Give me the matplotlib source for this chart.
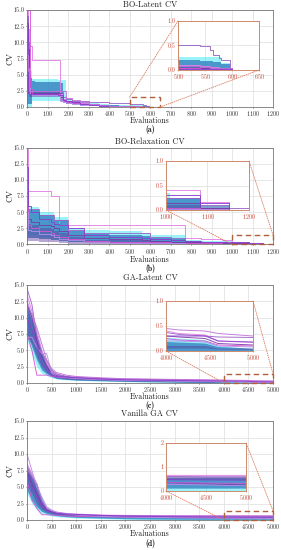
import matplotlib
matplotlib.use('Agg')
import matplotlib.pyplot as plt
from matplotlib.patches import Rectangle, ConnectionPatch
from matplotlib.ticker import FormatStrFormatter

plt.rcParams['font.family'] = 'cmr10'
plt.rcParams['axes.formatter.use_mathtext'] = True
plt.rcParams['mathtext.fontset'] = 'cm'

# ---------------- data ----------------
TITLES = ['BO-Latent CV', 'BO-Relaxation CV', 'GA-Latent CV', 'Vanilla GA CV']
SUBLABELS = ['(a)', '(b)', '(c)', '(d)']
Y_TICKS = [0.0, 2.5, 5.0, 7.5, 10.0, 12.5, 15.0]
X_TICKS_BO = [0, 100, 200, 300, 400, 500, 600, 700, 800, 900, 1000, 1100, 1200]
X_TICKS_GA = [0, 500, 1000, 1500, 2000, 2500, 3000, 3500, 4000, 4500, 5000]

# Panel (a) BO-Latent  (step curves)
XA = [0, 3, 8, 15, 25, 40, 80, 150, 160, 175, 190, 220, 260, 300, 350, 400, 450, 500, 540, 560, 565, 575, 580, 597, 600]
A_RUNS = [
    [15.0, 12.0, 9.5, 9.5, 7.2, 7.2, 7.2, 7.2, 2.0, 1.2, 1.0, 0.8, 0.6, 0.4, 0.3, 0.2, 0.15, 0.1, 0.08, 0.06, 0.06, 0.05, 0.05, 0.03, 0.03],
    [14.0, 10.0, 5.0, 2.5, 2.5, 2.5, 2.5, 2.5, 2.5, 1.6, 1.3, 1.0, 0.9, 0.8, 0.7, 0.6, 0.55, 0.5, 0.48, 0.4, 0.3, 0.25, 0.2, 0.0, 0.0],
    [13.0, 9.0, 4.0, 2.2, 2.2, 2.2, 2.2, 2.2, 1.5, 1.0, 0.9, 0.7, 0.5, 0.35, 0.25, 0.15, 0.1, 0.05, 0.05, 0.05, 0.05, 0.05, 0.05, 0.05, 0.05],
    [15.0, 15.0, 15.0, 2.8, 2.0, 2.0, 2.0, 2.0, 1.2, 0.9, 0.8, 0.6, 0.45, 0.3, 0.2, 0.1, 0.08, 0.05, 0.03, 0.03, 0.03, 0.03, 0.03, 0.03, 0.03],
    [10.0, 6.0, 3.0, 2.0, 1.8, 1.8, 1.8, 1.8, 1.0, 0.8, 0.6, 0.5, 0.35, 0.25, 0.15, 0.1, 0.05, 0.02, 0.02, 0.02, 0.02, 0.02, 0.02, 0.02, 0.02],
    [12.0, 2.2, 2.0, 2.0, 2.0, 2.0, 2.0, 1.9, 1.9, 1.1, 0.9, 0.7, 0.5, 0.3, 0.2, 0.1, 0.05, 0.03, 0.02, 0.02, 0.02, 0.02, 0.02, 0.02, 0.02],
    [8.0, 5.5, 2.4, 2.4, 2.4, 2.4, 2.4, 2.4, 2.4, 2.4, 1.4, 1.1, 0.8, 0.5, 0.35, 0.2, 0.12, 0.08, 0.06, 0.05, 0.05, 0.04, 0.04, 0.04, 0.04],
]
A_CYAN_LO = [0.0, 0.0, 0.0, 0.0, 0.9, 1.0, 1.0, 1.0, 1.0, 0.6, 0.4, 0.3, 0.2, 0.15, 0.1, 0.05, 0.02, 0.0, 0.0, 0.0, 0.0, 0.0, 0.0, 0.0, 0.0]
A_CYAN_HI = [12.0, 9.0, 6.0, 5.5, 4.3, 4.3, 4.3, 4.2, 4.2, 4.2, 1.2, 1.0, 0.8, 0.6, 0.45, 0.35, 0.3, 0.27, 0.27, 0.27, 0.27, 0.27, 0.15, 0.0, 0.0]
A_BLUE_LO = [0.5, 0.5, 0.5, 0.5, 2.0, 2.0, 2.0, 2.0, 2.0, 0.8, 0.5, 0.4, 0.3, 0.2, 0.12, 0.08, 0.05, 0.0, 0.0, 0.0, 0.0, 0.0, 0.0, 0.0, 0.0]
A_BLUE_HI = [11.0, 8.0, 5.0, 4.5, 4.0, 3.9, 3.9, 3.8, 3.7, 1.3, 1.0, 0.8, 0.6, 0.45, 0.35, 0.25, 0.22, 0.2, 0.18, 0.18, 0.17, 0.17, 0.12, 0.0, 0.0]
A_PURP_LO = [2.0, 2.0, 1.6, 1.5, 1.5, 1.5, 1.5, 1.5, 1.0, 0.7, 0.5, 0.4, 0.3, 0.2, 0.12, 0.08, 0.04, 0.02, 0.01, 0.0, 0.0, 0.0, 0.0, 0.0, 0.0]
A_PURP_HI = [14.0, 10.0, 6.0, 2.6, 2.5, 2.4, 2.3, 2.3, 2.2, 1.2, 1.0, 0.8, 0.6, 0.4, 0.3, 0.2, 0.12, 0.08, 0.06, 0.05, 0.04, 0.03, 0.03, 0.0, 0.0]

# Panel (b) BO-Relaxation (step curves)
XB = [0, 5, 20, 60, 115, 130, 155, 200, 280, 400, 560, 600, 700, 770, 850, 950, 1000, 1010, 1082, 1152, 1200]
B_RUNS = [
    [15.0, 8.2, 8.2, 8.2, 7.5, 7.5, 3.0, 3.0, 3.0, 3.0, 3.0, 3.0, 3.0, 1.0, 0.8, 0.6, 0.4, 0.4, 0.17, 0.0, 0.0],
    [10.0, 5.5, 5.5, 4.6, 4.6, 3.8, 3.8, 2.2, 1.8, 1.8, 1.8, 1.2, 1.0, 0.5, 0.4, 0.3, 0.25, 0.25, 0.1, 0.05, 0.05],
    [8.0, 4.0, 3.5, 3.0, 2.8, 2.5, 2.0, 1.5, 1.0, 0.8, 0.6, 0.5, 0.4, 0.3, 0.25, 0.2, 0.15, 0.15, 0.05, 0.0, 0.0],
    [6.0, 3.0, 2.5, 2.0, 1.8, 1.5, 1.2, 0.8, 0.5, 0.4, 0.35, 0.3, 0.25, 0.2, 0.15, 0.1, 0.05, 0.05, 0.02, 0.0, 0.0],
    [5.0, 2.2, 2.0, 1.6, 1.4, 1.2, 0.9, 0.6, 0.3, 0.25, 0.2, 0.18, 0.15, 0.1, 0.08, 0.05, 0.03, 0.03, 0.02, 0.0, 0.0],
    [12.0, 6.0, 5.0, 4.0, 3.5, 3.2, 3.0, 2.5, 1.5, 1.2, 1.0, 0.8, 0.6, 0.5, 0.4, 0.35, 0.3, 0.3, 0.15, 0.0, 0.0],
]
B_CYAN_LO = [1.5, 1.5, 1.5, 1.2, 1.0, 0.8, 0.6, 0.4, 0.3, 0.2, 0.15, 0.1, 0.05, 0.0, 0.0, 0.0, 0.0, 0.0, 0.0, 0.0, 0.0]
B_CYAN_HI = [6.0, 5.8, 5.8, 5.0, 5.0, 4.2, 4.2, 2.5, 2.2, 2.0, 1.8, 1.5, 1.4, 0.6, 0.5, 0.45, 0.35, 0.25, 0.1, 0.0, 0.0]
B_BLUE_LO = [1.0, 1.0, 1.0, 0.8, 0.7, 0.6, 0.5, 0.3, 0.2, 0.15, 0.1, 0.08, 0.05, 0.0, 0.0, 0.0, 0.0, 0.0, 0.0, 0.0, 0.0]
B_BLUE_HI = [5.5, 5.3, 5.3, 4.6, 4.6, 3.8, 3.8, 2.0, 1.6, 1.5, 1.3, 1.0, 0.9, 0.4, 0.35, 0.3, 0.25, 0.25, 0.05, 0.0, 0.0]
B_PURP_LO = [0.5, 0.5, 0.5, 0.4, 0.3, 0.3, 0.2, 0.1, 0.05, 0.03, 0.02, 0.02, 0.01, 0.0, 0.0, 0.0, 0.0, 0.0, 0.0, 0.0, 0.0]
B_PURP_HI = [4.5, 3.2, 3.0, 2.6, 2.4, 2.0, 1.8, 1.2, 0.7, 0.6, 0.5, 0.45, 0.4, 0.3, 0.25, 0.2, 0.1, 0.1, 0.08, 0.0, 0.0]

# Panel (c) GA-Latent (line curves)
XC = [0, 100, 200, 300, 400, 500, 600, 800, 1000, 1500, 2000, 2500, 3000, 3500, 4000, 4150, 4450, 4600, 5000]
C_RUNS = [
    [13.5, 11.0, 8.0, 5.0, 3.0, 1.8, 1.3, 1.0, 0.8, 0.65, 0.55, 0.5, 0.45, 0.42, 0.4, 0.35, 0.32, 0.2, 0.17],
    [14.5, 12.0, 7.0, 4.5, 3.5, 2.0, 1.4, 1.0, 0.9, 0.7, 0.6, 0.55, 0.5, 0.45, 0.37, 0.33, 0.3, 0.28, 0.27],
    [12.0, 10.0, 6.5, 4.0, 2.5, 1.5, 1.1, 0.9, 0.75, 0.6, 0.5, 0.45, 0.4, 0.35, 0.3, 0.28, 0.25, 0.15, 0.12],
    [7.5, 5.0, 1.2, 1.2, 1.2, 1.0, 0.9, 0.8, 0.7, 0.55, 0.45, 0.4, 0.35, 0.3, 0.25, 0.22, 0.2, 0.12, 0.1],
    [7.0, 7.0, 5.5, 4.5, 4.5, 1.5, 1.0, 0.85, 0.7, 0.5, 0.4, 0.35, 0.3, 0.25, 0.2, 0.2, 0.18, 0.1, 0.08],
    [10.0, 8.0, 6.0, 3.0, 2.0, 1.2, 1.0, 0.9, 0.8, 0.6, 0.5, 0.42, 0.38, 0.33, 0.3, 0.3, 0.3, 0.2, 0.18],
    [12.5, 10.5, 8.5, 6.0, 3.5, 2.2, 1.6, 1.2, 1.0, 0.8, 0.65, 0.6, 0.55, 0.5, 0.45, 0.42, 0.4, 0.35, 0.3],
]
C_CYAN_LO = [6.5, 4.5, 2.5, 1.5, 1.2, 0.8, 0.6, 0.5, 0.4, 0.3, 0.2, 0.15, 0.1, 0.05, 0.0, 0.0, 0.0, 0.0, 0.0]
C_CYAN_HI = [12.5, 10.0, 7.5, 5.0, 3.0, 1.8, 1.3, 1.0, 0.85, 0.65, 0.55, 0.45, 0.4, 0.32, 0.27, 0.25, 0.22, 0.1, 0.03]
C_BLUE_LO = [7.5, 5.5, 3.5, 2.0, 1.4, 1.0, 0.7, 0.55, 0.45, 0.35, 0.25, 0.18, 0.12, 0.06, 0.0, 0.0, 0.0, 0.0, 0.0]
C_BLUE_HI = [11.5, 9.5, 7.0, 4.5, 2.8, 1.6, 1.2, 0.95, 0.8, 0.6, 0.5, 0.4, 0.32, 0.25, 0.18, 0.17, 0.15, 0.08, 0.05]
C_PURP_LO = [7.0, 6.0, 4.0, 2.5, 1.6, 1.1, 0.8, 0.6, 0.5, 0.4, 0.3, 0.25, 0.2, 0.15, 0.05, 0.05, 0.05, 0.03, 0.02]
C_PURP_HI = [12.0, 10.5, 7.5, 5.0, 3.2, 1.9, 1.4, 1.05, 0.85, 0.65, 0.55, 0.48, 0.42, 0.36, 0.1, 0.1, 0.1, 0.05, 0.04]

# Panel (d) Vanilla GA (line curves)
XD = [0, 100, 200, 300, 400, 500, 600, 800, 1000, 1500, 2000, 2500, 3000, 3500, 4000, 4500, 5000]
D_RUNS = [
    [8.5, 7.0, 5.5, 3.0, 1.8, 1.4, 1.2, 1.0, 0.9, 0.75, 0.7, 0.68, 0.66, 0.65, 0.65, 0.65, 0.65],
    [8.0, 6.5, 5.0, 2.8, 1.6, 1.3, 1.1, 0.9, 0.8, 0.7, 0.65, 0.62, 0.6, 0.6, 0.6, 0.58, 0.58],
    [7.5, 5.5, 4.0, 2.5, 1.5, 1.2, 1.0, 0.85, 0.75, 0.6, 0.5, 0.45, 0.42, 0.4, 0.35, 0.3, 0.25],
    [6.0, 3.0, 1.8, 0.8, 0.8, 0.75, 0.7, 0.6, 0.55, 0.5, 0.45, 0.4, 0.38, 0.36, 0.35, 0.33, 0.32],
    [10.0, 7.5, 5.0, 3.5, 2.0, 1.5, 1.2, 0.9, 0.75, 0.55, 0.45, 0.4, 0.35, 0.3, 0.28, 0.25, 0.22],
    [7.0, 5.0, 3.5, 2.0, 1.5, 1.2, 1.0, 0.9, 0.85, 0.7, 0.6, 0.55, 0.5, 0.48, 0.47, 0.46, 0.45],
]
D_CYAN_LO = [4.0, 2.5, 1.5, 1.0, 0.8, 0.6, 0.5, 0.4, 0.3, 0.2, 0.1, 0.05, 0.0, 0.0, 0.0, 0.0, 0.0]
D_CYAN_HI = [7.5, 6.5, 5.5, 3.5, 2.0, 1.5, 1.3, 1.1, 0.95, 0.8, 0.7, 0.65, 0.6, 0.55, 0.5, 0.5, 0.5]
D_BLUE_LO = [4.5, 3.0, 2.0, 1.3, 1.0, 0.8, 0.65, 0.5, 0.4, 0.3, 0.2, 0.15, 0.12, 0.1, 0.1, 0.1, 0.1]
D_BLUE_HI = [7.5, 6.5, 5.5, 3.2, 1.8, 1.4, 1.2, 1.0, 0.9, 0.75, 0.65, 0.6, 0.56, 0.55, 0.55, 0.55, 0.55]
D_PURP_LO = [5.0, 4.0, 2.5, 1.6, 1.2, 1.0, 0.85, 0.7, 0.6, 0.5, 0.48, 0.47, 0.46, 0.46, 0.46, 0.46, 0.46]
D_PURP_HI = [8.5, 7.0, 5.5, 3.0, 1.8, 1.45, 1.25, 1.05, 0.92, 0.78, 0.7, 0.67, 0.65, 0.64, 0.63, 0.62, 0.62]

# inset zoom windows
INSET_XLIM = [(500, 650), (1000, 1200), (4000, 5000), (4000, 5000)]
INSET_YLIM = [(0, 1.0), (0, 1.0), (0, 1.0), (0, 2)]
INSET_XTICKS = [[500, 550, 600, 650], [1000, 1100, 1200], [4000, 4500, 5000], [4000, 4500, 5000]]
INSET_YTICKS = [[0.0, 0.5, 1.0], [0.0, 0.5, 1.0], [0.0, 0.5, 1.0], [0, 1, 2]]
INSET_YFMT = ['%.1f', '%.1f', '%.1f', '%d']
BOX_HEIGHT = [1.5, 1.45, 1.4, 1.4]

# ---------------- style ----------------
W, H = 281, 550
CYAN = '#22e6ee'
BLUE = '#2f78bd'
PURP = '#5b3a9e'
RUN_COLORS = ['#e27ee6', '#9a62c8', '#7b3aa6', '#d455d4', '#b58ee6', '#8a3fd0', '#c070d8']
INSET_EDGE = '#d08a6c'
BOX_COLOR = '#b0603a'
CONN_COLOR = '#d8785a'
INSET_TXT = '#c94a3a'

MAIN_BOX_PX = [(27, 10, 273, 107), (27, 147.7, 273, 244.3), (27, 285, 273, 383), (27, 421, 273, 520)]
INSET_BOX_PX = [(178, 21, 259, 70), (166, 161, 249, 210), (166, 301, 253, 351), (166, 443, 246, 491)]
TITLE_Y = [5, 142, 278, 414]
XLABEL_Y = [121, 259.5, 397, 534]
SUB_Y = [130, 268.5, 405, 543]


def px_rect(b):
    x0, y0, x1, y1 = b
    return [x0 / W, 1 - y1 / H, (x1 - x0) / W, (y1 - y0) / H]


def draw(ax, x, runs, bands, step):
    kw = dict(step='post') if step else {}
    (clo, chi), (blo, bhi), (plo, phi) = bands
    ax.fill_between(x, clo, chi, color=CYAN, alpha=0.45, lw=0, **kw)
    ax.fill_between(x, blo, bhi, color=BLUE, alpha=0.75, lw=0, **kw)
    ax.fill_between(x, plo, phi, color=PURP, alpha=0.45, lw=0, **kw)
    for y, c in zip(runs, RUN_COLORS):
        if step:
            ax.step(x, y, where='post', color=c, lw=0.7, alpha=0.9)
        else:
            ax.plot(x, y, color=c, lw=0.7, alpha=0.9)


fig = plt.figure(figsize=(W / 100, H / 100), dpi=100)

panels = [
    (XA, A_RUNS, ((A_CYAN_LO, A_CYAN_HI), (A_BLUE_LO, A_BLUE_HI), (A_PURP_LO, A_PURP_HI)), True, X_TICKS_BO),
    (XB, B_RUNS, ((B_CYAN_LO, B_CYAN_HI), (B_BLUE_LO, B_BLUE_HI), (B_PURP_LO, B_PURP_HI)), True, X_TICKS_BO),
    (XC, C_RUNS, ((C_CYAN_LO, C_CYAN_HI), (C_BLUE_LO, C_BLUE_HI), (C_PURP_LO, C_PURP_HI)), False, X_TICKS_GA),
    (XD, D_RUNS, ((D_CYAN_LO, D_CYAN_HI), (D_BLUE_LO, D_BLUE_HI), (D_PURP_LO, D_PURP_HI)), False, X_TICKS_GA),
]

for i, (x, runs, bands, step, xt) in enumerate(panels):
    ax = fig.add_axes(px_rect(MAIN_BOX_PX[i]))
    draw(ax, x, runs, bands, step)
    ax.set_xlim(xt[0], xt[-1])
    ax.set_ylim(0, 15)
    ax.set_xticks(xt)
    ax.set_yticks(Y_TICKS)
    ax.yaxis.set_major_formatter(FormatStrFormatter('%.1f'))
    ax.grid(True, color='#dddddd', lw=0.5)
    ax.set_axisbelow(True)
    ax.tick_params(labelsize=4.4, length=1.0, width=0.5, pad=0.6, colors='#333333')
    for s in ax.spines.values():
        s.set_color('#777777')
        s.set_linewidth(0.6)

    # inset
    ins = fig.add_axes(px_rect(INSET_BOX_PX[i]))
    draw(ins, x, runs, bands, step)
    ins.set_xlim(*INSET_XLIM[i])
    ins.set_ylim(*INSET_YLIM[i])
    ins.set_xticks(INSET_XTICKS[i])
    ins.set_yticks(INSET_YTICKS[i])
    ins.yaxis.set_major_formatter(FormatStrFormatter(INSET_YFMT[i]))
    ins.grid(True, color='#dddddd', lw=0.5)
    ins.set_axisbelow(True)
    ins.tick_params(labelsize=4.4, length=1.0, width=0.4, pad=0.6, colors=INSET_EDGE, labelcolor=INSET_TXT)
    for s in ins.spines.values():
        s.set_color(INSET_EDGE)
        s.set_linewidth(0.7)

    # zoom box on main axes
    x0, x1 = INSET_XLIM[i]
    bh = BOX_HEIGHT[i]
    rect = Rectangle((x0, 0), x1 - x0, bh, fill=False, ec=BOX_COLOR, lw=1.0,
                     ls=(0, (4, 2.5)), clip_on=False, zorder=5)
    ax.add_patch(rect)
    if i == 0:
        pairs = [((x0, bh), (0, 1)), ((x1, 0), (1, 0))]
    else:
        pairs = [((x1, bh), (1, 1)), ((x0, 0), (0, 0))]
    for pa, pb in pairs:
        con = ConnectionPatch(xyA=pa, coordsA=ax.transData, xyB=pb, coordsB=ins.transAxes,
                              color=CONN_COLOR, lw=0.6, ls=(0, (1, 1.5)), zorder=6)
        fig.add_artist(con)

    cx = (MAIN_BOX_PX[i][0] + MAIN_BOX_PX[i][2]) / 2 / W
    fig.text(cx, 1 - TITLE_Y[i] / H, TITLES[i], ha='center', va='center', fontsize=6, color='#222222')
    fig.text(cx, 1 - XLABEL_Y[i] / H, 'Evaluations', ha='center', va='center', fontsize=5.6, color='#222222')
    fig.text(cx, 1 - SUB_Y[i] / H, SUBLABELS[i], ha='center', va='center', fontsize=5.5,
             family='cmb10', color='#111111')
    cy = 1 - (MAIN_BOX_PX[i][1] + MAIN_BOX_PX[i][3]) / 2 / H
    fig.text(10 / W, cy, 'CV', ha='center', va='center', rotation=90, fontsize=6.3, color='#222222')

fig.savefig('out.png', dpi=100)
